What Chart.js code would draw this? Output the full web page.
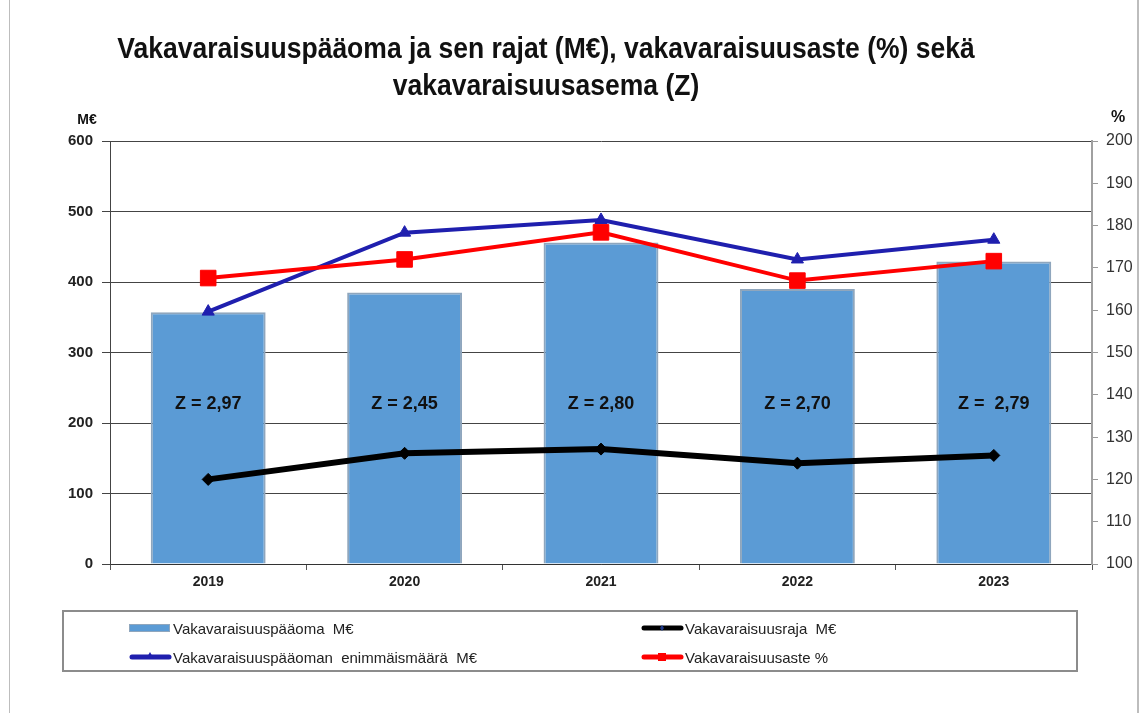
<!DOCTYPE html>
<html>
<head>
<meta charset="utf-8">
<script src="https://cdn.jsdelivr.net/npm/chart.js@4.4.1/dist/chart.umd.min.js"></script>
<style>
  html, body { margin:0; padding:0; background:#fff; }
  #wrap { position:relative; width:1147px; height:713px; overflow:hidden; background:#fff; }
  #frame { position:absolute; left:9px; top:-2px; width:1127px; height:720px; border-left:1px solid #bdbdbd; border-right:2px solid #bdbdbd; }
  canvas { position:absolute; left:0; top:0; }
  #title { position:absolute; left:0; width:1092px; top:30px; text-align:center; font-family:"Liberation Sans",Arial,sans-serif; font-weight:bold; font-size:29px; line-height:37px; color:#111; transform:scaleX(0.914); transform-origin:546px 0; }
  #legend { position:absolute; left:62px; top:610px; width:1016px; height:62px; border:2px solid #8c8c8c; box-sizing:border-box; font-family:"Liberation Sans",Arial,sans-serif; font-size:15px; color:#222; }
  .item { position:absolute; display:flex; align-items:center; height:20px; }
  .sw { position:relative; width:43px; height:20px; margin-right:1px; }
</style>
</head>
<body>
<div id="wrap">
  <div id="frame"></div>
  <canvas id="c" width="1147" height="713"></canvas>
  <div id="title">Vakavaraisuuspääoma ja sen rajat (M€), vakavaraisuusaste (%) sekä<br>vakavaraisuusasema (Z)</div>
  <div id="legend"></div>
</div>
<script>
const categories = ['2019', '2020', '2021', '2022', '2023'];
const capital = [357, 385, 456, 390, 429];           // Vakavaraisuuspääoma M€
const solvencyLimit = [120, 157, 163, 143, 154];      // Vakavaraisuusraja M€
const capitalMax = [358, 470, 488, 432, 460];         // Vakavaraisuuspääoman enimmäismäärä M€
const solvencyRatio = [167.6, 172, 178.4, 167, 171.6]; // Vakavaraisuusaste %
const zValues = ['Z = 2,97', 'Z = 2,45', 'Z = 2,80', 'Z = 2,70', 'Z =  2,79'];
const leftTicks = [0, 100, 200, 300, 400, 500, 600];
const rightTicks = [100, 110, 120, 130, 140, 150, 160, 170, 180, 190, 200];

const zPlugin = {
  id: 'zlabels',
  afterDatasetsDraw(chart) {
    const ctx = chart.ctx;
    const meta = chart.getDatasetMeta(0);
    const area = chart.chartArea;
    const y = area.top + (area.bottom - area.top) * 0.621;
    ctx.save();
    ctx.font = 'bold 18px "Liberation Sans", Arial, sans-serif';
    ctx.fillStyle = '#111';
    ctx.textAlign = 'center';
    ctx.textBaseline = 'middle';
    meta.data.forEach((bar, i) => {
      ctx.fillText(zValues[i], bar.x, y);
    });
    const yl = chart.scales.y, yr = chart.scales.y2;
    ctx.font = 'bold 14px "Liberation Sans", Arial, sans-serif';
    ctx.fillText('M€', yl.right - 23, area.top - 21);
    ctx.font = 'bold 16px "Liberation Sans", Arial, sans-serif';
    ctx.fillText('%', yr.left + 26, area.top - 23);
    ctx.restore();
  }
};

const chart = new Chart(document.getElementById('c'), {
  data: {
    labels: categories,
    datasets: [
      {
        type: 'bar', label: 'Vakavaraisuuspääoma  M€', data: capital, yAxisID: 'y',
        backgroundColor: '#5b9bd5', borderColor: '#8fa6bd', borderWidth: {top:2, left:2, right:2, bottom:0},
        barPercentage: 0.585, categoryPercentage: 1, order: 5
      },
      {
        type: 'line', label: 'Vakavaraisuusraja  M€', data: solvencyLimit, yAxisID: 'y',
        borderColor: '#000', backgroundColor: '#000', borderWidth: 6,
        pointStyle: 'rectRot', pointRadius: 6, pointBorderWidth: 1, order: 3
      },
      {
        type: 'line', label: 'Vakavaraisuuspääoman  enimmäismäärä  M€', data: capitalMax, yAxisID: 'y',
        borderColor: '#1f1fae', backgroundColor: '#1f1fae', borderWidth: 4,
        pointStyle: 'triangle', pointRadius: 7, pointBorderWidth: 1, order: 2
      },
      {
        type: 'line', label: 'Vakavaraisuusaste %', data: solvencyRatio, yAxisID: 'y2',
        borderColor: '#ff0000', backgroundColor: '#ff0000', borderWidth: 4,
        pointStyle: 'rect', pointRadius: 11, pointBorderWidth: 1, order: 1
      }
    ]
  },
  options: {
    responsive: false,
    animation: false,
    layout: { padding: { left: 10, right: 0, top: 141, bottom: 119 } },
    plugins: { legend: { display: false }, title: { display: false }, tooltip: { enabled: false } },
    scales: {
      x: {
        offset: true,
        grid: { offset: true, drawOnChartArea: false, drawTicks: true, tickLength: 6, color: '#555' },
        border: { color: '#333', width: 1 },
        ticks: { font: { family: '"Liberation Sans", Arial, sans-serif', size: 14, weight: 'bold' }, color: '#222', padding: 4 },
        afterFit(s) { s.height = 30; }
      },
      y: {
        position: 'left', min: 0, max: 600,
        afterBuildTicks(s) { s.ticks = leftTicks.map(v => ({ value: v })); },
        grid: { color: '#444', lineWidth: 1, tickLength: 8 },
        border: { color: '#444', width: 1 },
        ticks: { font: { family: '"Liberation Sans", Arial, sans-serif', size: 15, weight: 'bold' }, color: '#222', padding: 9 },
        afterFit(s) { s.width = 100; }
      },
      y2: {
        position: 'right', min: 100, max: 200,
        afterBuildTicks(s) { s.ticks = rightTicks.map(v => ({ value: v })); },
        grid: { drawOnChartArea: false, drawTicks: true, tickLength: 6, color: '#999' },
        border: { color: '#a0a0a0', width: 2 },
        ticks: { font: { family: '"Liberation Sans", Arial, sans-serif', size: 16 }, color: '#333', padding: 8 },
        afterFit(s) { s.width = 55; }
      }
    }
  },
  plugins: [zPlugin]
});

// HTML legend built from the chart's datasets
(function buildLegend() {
  const leg = document.getElementById('legend');
  const pos = [[65, 6], [577, 6], [65, 35], [577, 35]];
  chart.data.datasets.forEach((ds, i) => {
    const it = document.createElement('div');
    it.className = 'item';
    it.style.left = pos[i][0] + 'px';
    it.style.top = pos[i][1] + 'px';
    const sw = document.createElement('canvas');
    sw.width = 43; sw.height = 20; sw.className = 'sw';
    const g = sw.getContext('2d');
    if (ds.type === 'bar') {
      g.fillStyle = '#8fa6bd'; g.fillRect(0, 6, 41, 8);
      g.fillStyle = '#5b9bd5'; g.fillRect(1, 7, 39, 6);
    } else {
      g.strokeStyle = ds.borderColor; g.lineWidth = 5; g.lineCap = 'round';
      g.beginPath(); g.moveTo(3, 10); g.lineTo(40, 10); g.stroke();
      g.fillStyle = ds.pointStyle === 'rectRot' ? '#1f3a8a' : ds.borderColor;
      if (ds.pointStyle === 'rect') g.fillRect(17, 6, 8, 8);
      else if (ds.pointStyle === 'triangle') { g.beginPath(); g.moveTo(21, 5); g.lineTo(25, 12); g.lineTo(17, 12); g.closePath(); g.fill(); }
      else { g.beginPath(); g.moveTo(21, 7); g.lineTo(23, 10); g.lineTo(21, 13); g.lineTo(19, 10); g.closePath(); g.fill(); }
    }
    const t = document.createElement('span');
    t.textContent = ds.label;
    t.style.whiteSpace = 'pre';
    it.appendChild(sw); it.appendChild(t);
    leg.appendChild(it);
  });
})();
</script>
</body>
</html>
